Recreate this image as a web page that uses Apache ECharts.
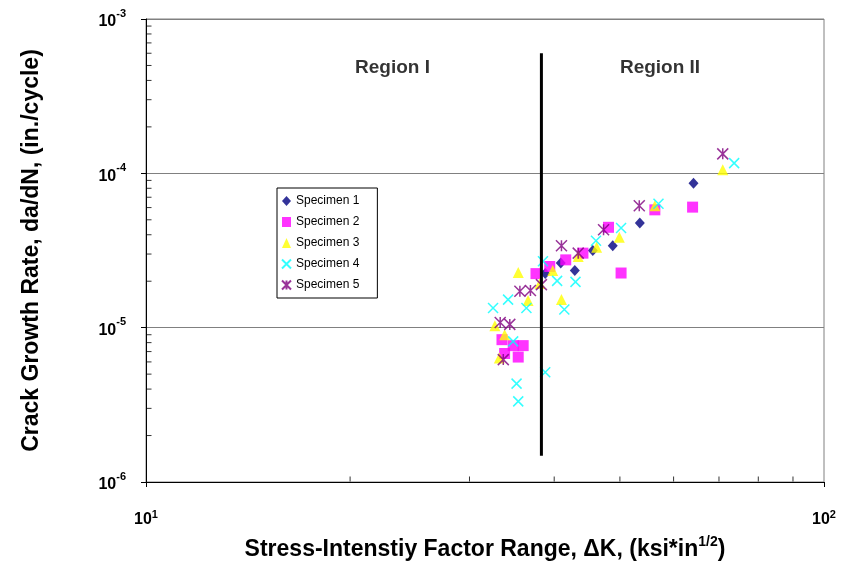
<!DOCTYPE html>
<html>
<head>
<meta charset="utf-8">
<script src="https://cdn.jsdelivr.net/npm/echarts@6/dist/echarts.min.js"></script>
<style>html,body{margin:0;padding:0;background:#fff}#c{width:842px;height:569px}</style>
</head>
<body>
<div id="c"></div>
<script>
// ---- data (ΔK in ksi*in^1/2, da/dN in in./cycle) ----
const specimen1 = [[64.2,8.64e-5],[53.5,4.76e-5],[48.8,3.39e-5],[45.6,3.16e-5],[42.9,2.35e-5],[40.9,2.62e-5],[38.8,2.24e-5]];
const specimen2 = [[64.0,6.04e-5],[56.3,5.80e-5],[50.2,2.26e-5],[48.1,4.47e-5],[44.1,3.04e-5],[41.6,2.75e-5],[39.4,2.49e-5],[37.6,2.24e-5],
                   [33.5,8.36e-6],[34.8,7.65e-6],[36.0,7.65e-6],[35.4,6.45e-6],[33.8,6.8e-6]];
const specimen3 = [[70.9,1.054e-4],[56.3,6.16e-5],[49.9,3.85e-5],[46.2,3.32e-5],[43.4,2.89e-5],[39.8,2.35e-5],[35.4,2.28e-5],[38.1,1.93e-5],
                   [36.6,1.50e-5],[41.0,1.52e-5],[32.7,1.03e-5],[33.8,9.0e-6],[33.2,6.36e-6]];
const specimen4 = [[73.7,1.164e-4],[57.0,6.35e-5],[50.2,4.42e-5],[46.1,3.66e-5],[38.5,2.69e-5],[40.4,2.01e-5],[43.0,1.98e-5],[34.2,1.52e-5],
                   [32.5,1.34e-5],[36.4,1.34e-5],[41.4,1.31e-5],[34.8,8.15e-6],[38.8,5.14e-6],[35.2,4.34e-6],[35.4,3.33e-6]];
const specimen5 = [[70.9,1.337e-4],[53.4,6.16e-5],[47.3,4.31e-5],[43.4,3.04e-5],[41.0,3.39e-5],[38.3,1.90e-5],[36.9,1.74e-5],[35.6,1.72e-5],
                   [33.3,1.08e-5],[34.4,1.05e-5],[33.65,6.21e-6]];
const seriesNames = ['Specimen 1','Specimen 2','Specimen 3','Specimen 4','Specimen 5'];
const regionBoundary = [[38.3,6.0e-4],[38.3,1.48e-6]];
const regionNames = ['Region I','Region II'];
const regionLabelPos = [[23.1,4.8e-4],[57.3,4.8e-4]];
const xTickExponents = [1,2];
const yTickExponents = [-6,-5,-4,-3];
const minorMultipliers = [2,3,4,5,6,7,8,9];

// ---- minor (log) ticks built from the tick arrays ----
const xMin = Math.pow(10, xTickExponents[0]), xMax = Math.pow(10, xTickExponents[xTickExponents.length-1]);
const yMin = Math.pow(10, yTickExponents[0]), yMax = Math.pow(10, yTickExponents[yTickExponents.length-1]);
const yMinorTicks = [];
for (let i = 0; i < yTickExponents.length-1; i++) minorMultipliers.forEach(m => yMinorTicks.push([xMin, m*Math.pow(10, yTickExponents[i])]));
const xMinorTicks = [];
for (let i = 0; i < xTickExponents.length-1; i++) minorMultipliers.forEach(m => xMinorTicks.push([m*Math.pow(10, xTickExponents[i]), yMin]));

const FONT = '"Liberation Sans", Arial, Helvetica, sans-serif';
const supFmt = v => '{b|10}{s|' + Math.round(Math.log10(v)) + '}';
const crossPath = 'path://M0,0 L10,10 M10,0 L0,10';
const starPath = 'path://M5,0 L5,10 M0,0 L10,10 M10,0 L0,10';

const chart = echarts.init(document.getElementById('c'), null, {renderer: 'canvas'});
chart.setOption({
  backgroundColor: '#fff',
  animation: false,
  grid: {left: 146, right: 18, top: 19, bottom: 87, show: true, borderColor: '#808080', borderWidth: 1, backgroundColor: 'transparent'},
  legend: {
    data: seriesNames, orient: 'vertical', left: 277, top: 188,
    padding: [6, 18, 6, 4], itemGap: 7, itemWidth: 9, itemHeight: 10,
    borderColor: '#000', borderWidth: 1, backgroundColor: '#fff',
    textStyle: {fontFamily: FONT, fontSize: 12, color: '#000', lineHeight: 14},
    selectedMode: false
  },
  xAxis: {
    type: 'log', logBase: 10, min: xMin, max: xMax,
    name: '{t|Stress-Intenstiy Factor Range, ΔK, (ksi*in}{s|1/2}{t|)}',
    nameLocation: 'middle', nameGap: 53,
    nameTextStyle: {rich: {
      t: {fontFamily: FONT, fontSize: 23, fontWeight: 'bold', color: '#000', lineHeight: 30},
      s: {fontFamily: FONT, fontSize: 14, fontWeight: 'bold', color: '#000', verticalAlign: 'top', lineHeight: 14}
    }},
    axisLine: {show: true, onZero: false, lineStyle: {color: '#000', width: 1}},
    axisTick: {show: true, inside: false, length: 5, lineStyle: {color: '#000'}},
    axisLabel: {formatter: supFmt, margin: 27, rich: {
      b: {fontFamily: FONT, fontSize: 16, fontWeight: 'bold', color: '#000', lineHeight: 22},
      s: {fontFamily: FONT, fontSize: 11, fontWeight: 'bold', color: '#000', verticalAlign: 'top', lineHeight: 12}
    }},
    splitLine: {show: false}
  },
  yAxis: {
    type: 'log', logBase: 10, min: yMin, max: yMax,
    name: 'Crack Growth Rate, da/dN, (in./cycle)',
    nameLocation: 'middle', nameGap: 103, nameRotate: 90,
    nameTextStyle: {fontFamily: FONT, fontSize: 23, fontWeight: 'bold', color: '#000'},
    axisLine: {show: true, onZero: false, lineStyle: {color: '#000', width: 1}},
    axisTick: {show: true, inside: false, length: 5, lineStyle: {color: '#000'}},
    axisLabel: {formatter: supFmt, margin: 20, rich: {
      b: {fontFamily: FONT, fontSize: 16, fontWeight: 'bold', color: '#000', lineHeight: 22, padding: [6,0,0,0]},
      s: {fontFamily: FONT, fontSize: 11, fontWeight: 'bold', color: '#000', verticalAlign: 'top', lineHeight: 12}
    }},
    splitLine: {show: true, lineStyle: {color: '#808080', width: 1}}
  },
  series: [
    {name: 'minorY', type: 'scatter', data: yMinorTicks, symbol: 'rect', symbolSize: [5,1], symbolOffset: [3,0],
     itemStyle: {color: '#000'}, silent: true, clip: false, z: 5},
    {name: 'minorX', type: 'scatter', data: xMinorTicks, symbol: 'rect', symbolSize: [1,5], symbolOffset: [0,-3],
     itemStyle: {color: '#000'}, silent: true, clip: false, z: 5},
    {name: seriesNames[0], type: 'scatter', data: specimen1, symbol: 'diamond', symbolSize: [10,11], itemStyle: {color: '#000080'}},
    {name: seriesNames[1], type: 'scatter', data: specimen2, symbol: 'rect', symbolSize: 11, itemStyle: {color: '#FF00FF'}},
    {name: seriesNames[2], type: 'scatter', data: specimen3, symbol: 'triangle', symbolSize: 11, itemStyle: {color: '#FFFF00'}},
    {name: seriesNames[3], type: 'scatter', data: specimen4, symbol: crossPath, symbolSize: 10,
     itemStyle: {color: 'rgba(0,0,0,0)', borderColor: '#00FFFF', borderWidth: 1.5}},
    {name: seriesNames[4], type: 'scatter', data: specimen5, symbol: starPath, symbolSize: 11,
     itemStyle: {color: 'rgba(0,0,0,0)', borderColor: '#800080', borderWidth: 1.5}},
    {name: 'boundary', type: 'line', data: regionBoundary, symbol: 'none', lineStyle: {color: '#000', width: 3}, silent: true, z: 4},
    {name: 'regions', type: 'scatter', data: regionLabelPos, symbolSize: 0, silent: true,
     label: {show: true, position: 'inside', formatter: p => regionNames[p.dataIndex],
             fontFamily: FONT, fontSize: 19, fontWeight: 'bold', color: '#000'}}
  ]
});
</script>
</body>
</html>
